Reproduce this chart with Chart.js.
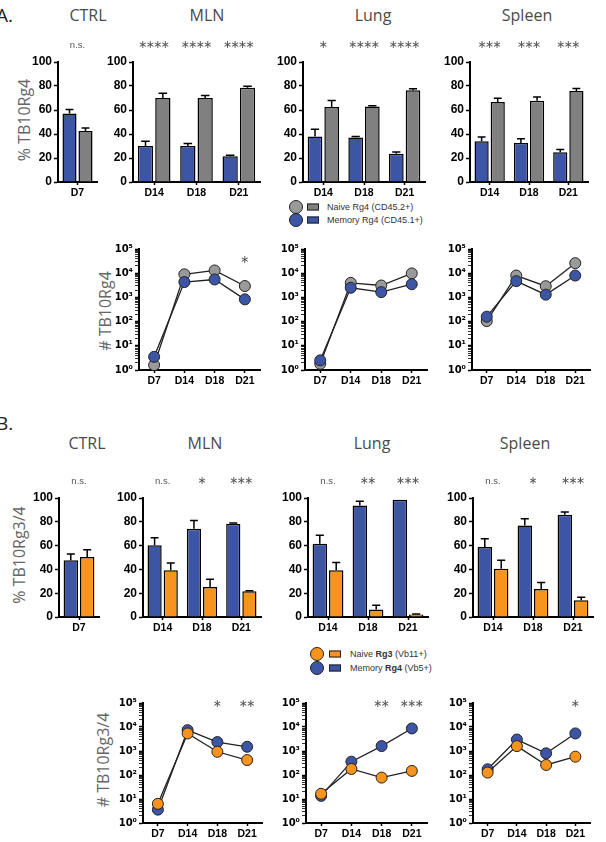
<!DOCTYPE html>
<html>
<head>
<title>TB10Rg4 naive vs memory</title>
<script src="https://cdn.jsdelivr.net/npm/chart.js"></script>
<style>
  body { margin:0; width:606px; height:842px; position:relative; background:#fff; overflow:hidden;
         font-family: Arial, "Liberation Sans", sans-serif; }
  canvas.c { position:absolute; }
  .t { position:absolute; font-family:"Open Sans", sans-serif; font-size:16px; color:#4a4a4a;
       transform:translate(-50%,-50%); white-space:nowrap; }
  .ylab { position:absolute; font-family:"Open Sans", sans-serif; font-size:16px; color:#666;
          transform:translate(-50%,-50%) rotate(-90deg); white-space:nowrap; }
  .panel { position:absolute; font-family:"Open Sans", sans-serif; font-size:19px; color:#222;
           transform:translateY(-50%); }
  .leg { position:absolute; font-size:9px; color:#333; white-space:nowrap; transform:translateY(-50%); }
  .dot { position:absolute; width:12px; height:12px; border-radius:50%; border:1px solid #222;
         transform:translate(-50%,-50%); }
  .box { position:absolute; width:10px; height:5px; border:1px solid #222; transform:translateY(-50%); }
</style>
</head>
<body>

<div class="panel" style="left:-4px; top:15px">A.</div>
<div class="t" style="left:88px; top:15px">CTRL</div>
<div class="t" style="left:207px; top:15px">MLN</div>
<div class="t" style="left:373px; top:15px">Lung</div>
<div class="t" style="left:527px; top:15px">Spleen</div>
<div class="ylab" style="left:24px; top:120px">% TB10Rg4</div>
<div class="ylab" style="left:105px; top:311px"># TB10Rg4</div>

<div class="dot" style="left:296px; top:207px; background:#9a9a9a"></div>
<div class="dot" style="left:296px; top:220px; background:#3d55a5"></div>
<div class="box" style="left:307px; top:207px; background:#808080"></div>
<div class="box" style="left:307px; top:220px; background:#3d55a5"></div>
<div class="leg" style="left:327px; top:207px">Naive Rg4 (CD45.2+)</div>
<div class="leg" style="left:327px; top:220px">Memory Rg4 (CD45.1+)</div>

<div class="panel" style="left:-4px; top:423px">B.</div>
<div class="t" style="left:87px; top:443px">CTRL</div>
<div class="t" style="left:205px; top:443px">MLN</div>
<div class="t" style="left:372px; top:443px">Lung</div>
<div class="t" style="left:525px; top:443px">Spleen</div>
<div class="ylab" style="left:19px; top:555px">% TB10Rg3/4</div>
<div class="ylab" style="left:103px; top:760px"># TB10Rg3/4</div>

<div class="dot" style="left:317px; top:654px; background:#f7941d"></div>
<div class="dot" style="left:317px; top:668px; background:#3d55a5"></div>
<div class="box" style="left:329px; top:654px; background:#f7941d"></div>
<div class="box" style="left:329px; top:668px; background:#3d55a5"></div>
<div class="leg" style="left:350px; top:654px">Naive <b>Rg3</b> (Vb11+)</div>
<div class="leg" style="left:350px; top:668px">Memory <b>Rg4</b> (Vb5+)</div>

<script>
// ---- data ----
const ctrlDays = ['D7'];
const days3 = ['D14', 'D18', 'D21'];
const days4 = ['D7', 'D14', 'D18', 'D21'];

// A: % TB10Rg4, memory (blue) and naive (gray), mean and upper error
const ctrlA_mem = [57], ctrlA_memErr = [3.5];
const ctrlA_naive = [42.5], ctrlA_naiveErr = [2.5];
const mlnA_mem = [30, 30, 21.4], mlnA_memErr = [4, 2, 0.8];
const mlnA_naive = [70, 70, 78.6], mlnA_naiveErr = [4, 2, 1.1];
const lungA_mem = [38, 37, 23.6], lungA_memErr = [6, 1, 1.4];
const lungA_naive = [62.5, 63, 76.4], lungA_naiveErr = [5.5, 0.6, 1.4];
const spleenA_mem = [34, 32.5, 24.7], spleenA_memErr = [3.5, 3.5, 2.3];
const spleenA_naive = [66.7, 67.8, 75.8], spleenA_naiveErr = [3, 3, 2.2];
const ctrlA_sig = ['n.s.'];
const mlnA_sig = ['****', '****', '****'];
const lungA_sig = ['*', '****', '****'];
const spleenA_sig = ['***', '***', '***'];

// A: # TB10Rg4 (log)
const mlnA_cntNaive = [1.6, 9000, 13000, 2950];
const mlnA_cntMem = [3.5, 4300, 5500, 830];
const lungA_cntNaive = [1.8, 4000, 3100, 9800];
const lungA_cntMem = [2.5, 2500, 1650, 3500];
const spleenA_cntNaive = [105, 8000, 2900, 26000];
const spleenA_cntMem = [160, 4700, 1300, 8000];
const mlnA_cntSig = ['', '', '', '*'];

// B: % TB10Rg3/4, memory Rg4 (blue) and naive Rg3 (orange)
const ctrlB_mem = [47.6], ctrlB_memErr = [5.4];
const ctrlB_naive = [50.4], ctrlB_naiveErr = [6.2];
const mlnB_mem = [60.2, 74.2, 78.4], mlnB_memErr = [6.5, 6.8, 0.6];
const mlnB_naive = [39.2, 25.2, 21.6], mlnB_naiveErr = [6.2, 6.5, 0.5];
const lungB_mem = [61.6, 93.8, 98.6], lungB_memErr = [7, 3.4, 0];
const lungB_naive = [39.2, 6.4, 2], lungB_naiveErr = [6.5, 3.4, 0.5];
const spleenB_mem = [58.8, 76.8, 86], spleenB_memErr = [7, 5.8, 2.2];
const spleenB_naive = [40.6, 23.5, 14], spleenB_naiveErr = [7, 5.4, 2.5];
const ctrlB_sig = ['n.s.'];
const mlnB_sig = ['n.s.', '*', '***'];
const lungB_sig = ['n.s.', '**', '***'];
const spleenB_sig = ['n.s.', '*', '***'];

// B: # TB10Rg3/4 (log)
const mlnB_cntNaive = [6.3, 5400, 930, 420];
const mlnB_cntMem = [3.6, 7400, 2350, 1500];
const lungB_cntNaive = [16.5, 178, 78, 148];
const lungB_cntMem = [13.5, 360, 1600, 8700];
const spleenB_cntNaive = [126, 1600, 262, 580];
const spleenB_cntMem = [173, 3000, 800, 5400];
const mlnB_cntSig = ['', '', '*', '**'];
const lungB_cntSig = ['', '', '**', '***'];
const spleenB_cntSig = ['', '', '', '*'];

// ---- style ----
const BLUE = '#3d55a5', GRAY_BAR = '#808080', GRAY_DOT = '#9a9a9a', ORANGE = '#f7941d';
const SUP = ['\u2070', '\u00b9', '\u00b2', '\u00b3', '\u2074', '\u2075'];
const YW = 40, PR = 8, XH = 22;

// error bars + significance marks
const extras = {
  id: 'extras',
  afterDatasetsDraw(chart, args, opts) {
    const ctx = chart.ctx, ys = chart.scales.y, xs = chart.scales.x;
    if (opts.errors) {
      opts.errors.forEach((errs, di) => {
        chart.getDatasetMeta(di).data.forEach((bar, i) => {
          const e = errs[i];
          if (!e) return;
          const v = chart.data.datasets[di].data[i];
          const yt = ys.getPixelForValue(v + e);
          const hw = bar.width * 0.28;
          ctx.save();
          ctx.strokeStyle = '#000';
          ctx.lineWidth = 1.5;
          ctx.beginPath();
          ctx.moveTo(bar.x, bar.y);
          ctx.lineTo(bar.x, yt);
          ctx.moveTo(bar.x - hw, yt);
          ctx.lineTo(bar.x + hw, yt);
          ctx.stroke();
          ctx.restore();
        });
      });
    }
    if (opts.sig) {
      const y = chart.chartArea.top + opts.sigDy;
      ctx.save();
      ctx.fillStyle = '#555';
      ctx.textAlign = 'center';
      ctx.textBaseline = 'middle';
      opts.sig.forEach((s, i) => {
        if (!s) return;
        const px = xs.getPixelForValue(i);
        if (s === 'n.s.') {
          ctx.font = '9.5px Arial';
          ctx.fillText(s, px, y);
        } else {
          ctx.font = '11px "DejaVu Sans"';
          const n = s.length;
          for (let k = 0; k < n; k++) ctx.fillText('\u2217', px + (k - (n - 1) / 2) * 7.5, y);
        }
      });
      ctx.restore();
    }
  }
};

function place(r, padTop) {
  const cv = document.createElement('canvas');
  const w = r[1] - r[0] + YW + PR, h = r[3] - r[2] + padTop + XH;
  cv.width = w; cv.height = h;
  cv.className = 'c';
  cv.style.left = (r[0] - YW) + 'px';
  cv.style.top = (r[2] - padTop) + 'px';
  cv.style.width = w + 'px';
  cv.style.height = h + 'px';
  document.body.appendChild(cv);
  return cv;
}

const axisBorder = { color: '#000', width: 2 };

function xAxis(offset) {
  return {
    offset: offset,
    ticks: { color: '#000', font: { family: 'Arial', weight: 'bold', size: 10.5 }, padding: 2, maxRotation: 0 },
    grid: { drawOnChartArea: false, offset: false, tickLength: 3, tickWidth: 1.5, tickColor: '#000' },
    border: axisBorder,
    afterFit(s) { s.height = XH; }
  };
}

function bars(r, labels, d1, e1, c1, d2, e2, c2, sig) {
  const padTop = 28;
  const ds = (d, c) => ({ data: d, backgroundColor: c, borderColor: '#000', borderWidth: 1.5,
                          categoryPercentage: 0.82, barPercentage: 0.88 });
  new Chart(place(r, padTop), {
    type: 'bar',
    data: { labels: labels, datasets: [ds(d1, c1), ds(d2, c2)] },
    options: {
      responsive: false, animation: false, devicePixelRatio: 1,
      layout: { padding: { top: padTop, right: PR, left: 0, bottom: 0 } },
      plugins: { legend: { display: false }, tooltip: { enabled: false },
                 extras: { errors: [e1, e2], sig: sig, sigDy: -17 } },
      scales: {
        x: xAxis(true),
        y: {
          min: 0, max: 100,
          ticks: { stepSize: 20, color: '#000', font: { family: 'Arial', weight: 'bold', size: 12 }, padding: 2 },
          grid: { drawOnChartArea: false, tickLength: 4, tickWidth: 1.5, tickColor: '#000' },
          border: axisBorder,
          afterFit(s) { s.width = YW; }
        }
      }
    },
    plugins: [extras]
  });
}

function counts(r, d1, c1, d2, c2, sig, sigDy) {
  const padTop = 10;
  const ds = (d, c) => ({ data: d, borderColor: '#222', borderWidth: 1.3, pointBackgroundColor: c,
                          pointBorderColor: '#222', pointBorderWidth: 1, pointRadius: 5.5, clip: false });
  new Chart(place(r, padTop), {
    type: 'line',
    data: { labels: days4, datasets: [ds(d1, c1), ds(d2, c2)] },
    options: {
      responsive: false, animation: false, devicePixelRatio: 1,
      layout: { padding: { top: padTop, right: PR, left: 0, bottom: 0 } },
      plugins: { legend: { display: false }, tooltip: { enabled: false },
                 extras: { sig: sig, sigDy: sigDy } },
      scales: {
        x: xAxis(true),
        y: {
          type: 'logarithmic', min: 1, max: 1e5,
          afterBuildTicks(s) {
            const t = [];
            for (let k = 0; k < 5; k++) for (let m = 1; m < 10; m++) t.push({ value: m * Math.pow(10, k), major: m === 1 });
            t.push({ value: 1e5, major: true });
            s.ticks = t;
          },
          ticks: {
            autoSkip: false, color: '#000', font: { family: '"DejaVu Sans"', weight: 'bold', size: 10 }, padding: 2,
            callback(v) {
              const l = Math.log10(v), k = Math.round(l);
              return Math.abs(l - k) < 1e-9 ? '10' + SUP[k] : '';
            }
          },
          grid: { drawOnChartArea: false, tickLength: 4, tickColor: '#000',
                  tickWidth: c => (c.tick && c.tick.major ? 1.5 : 0.8) },
          border: axisBorder,
          afterFit(s) { s.width = YW; }
        }
      }
    },
    plugins: [extras]
  });
}

// ---- panel A ----
bars([58, 97, 62, 182], ctrlDays, ctrlA_mem, ctrlA_memErr, BLUE, ctrlA_naive, ctrlA_naiveErr, GRAY_BAR, ctrlA_sig);
bars([133, 260, 62, 182], days3, mlnA_mem, mlnA_memErr, BLUE, mlnA_naive, mlnA_naiveErr, GRAY_BAR, mlnA_sig);
bars([303, 425, 62, 182], days3, lungA_mem, lungA_memErr, BLUE, lungA_naive, lungA_naiveErr, GRAY_BAR, lungA_sig);
bars([470, 588, 62, 182], days3, spleenA_mem, spleenA_memErr, BLUE, spleenA_naive, spleenA_naiveErr, GRAY_BAR, spleenA_sig);

counts([139, 260, 249, 370], mlnA_cntMem, BLUE, mlnA_cntNaive, GRAY_DOT, mlnA_cntSig, 11);
counts([305, 427, 249, 370], lungA_cntMem, BLUE, lungA_cntNaive, GRAY_DOT, null, 0);
counts([472, 590, 249, 370], spleenA_cntMem, BLUE, spleenA_cntNaive, GRAY_DOT, null, 0);

// ---- panel B ----
bars([59, 99, 498, 617], ctrlDays, ctrlB_mem, ctrlB_memErr, BLUE, ctrlB_naive, ctrlB_naiveErr, ORANGE, ctrlB_sig);
bars([143, 261, 498, 617], days3, mlnB_mem, mlnB_memErr, BLUE, mlnB_naive, mlnB_naiveErr, ORANGE, mlnB_sig);
bars([308, 428, 498, 617], days3, lungB_mem, lungB_memErr, BLUE, lungB_naive, lungB_naiveErr, ORANGE, lungB_sig);
bars([473, 593, 498, 617], days3, spleenB_mem, spleenB_memErr, BLUE, spleenB_naive, spleenB_naiveErr, ORANGE, spleenB_sig);

counts([143, 262, 703, 823], mlnB_cntNaive, ORANGE, mlnB_cntMem, BLUE, mlnB_cntSig, 1);
counts([306, 427, 703, 823], lungB_cntNaive, ORANGE, lungB_cntMem, BLUE, lungB_cntSig, 1);
counts([473, 590, 703, 823], spleenB_cntNaive, ORANGE, spleenB_cntMem, BLUE, spleenB_cntSig, 1);
</script>
</body>
</html>
